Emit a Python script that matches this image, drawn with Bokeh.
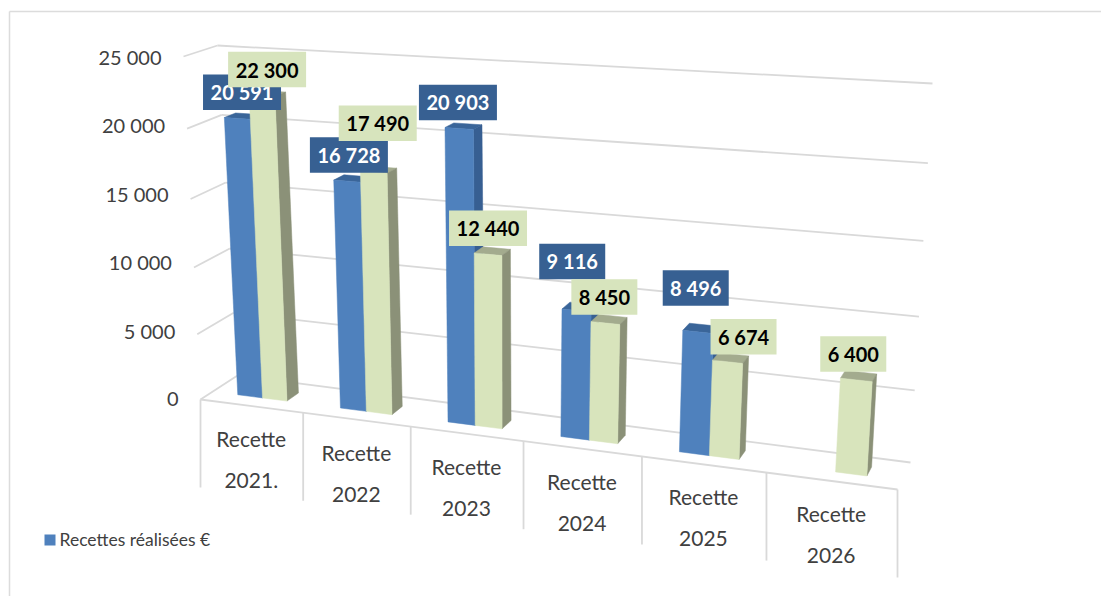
from bokeh.plotting import figure
from bokeh.embed import file_html
from bokeh.resources import INLINE
from bokeh.core.properties import value

# ---------- data ----------
categories = ["Recette\n2021.", "Recette\n2022", "Recette\n2023", "Recette\n2024", "Recette\n2025", "Recette\n2026"]
blue_values = [20591, 16728, 20903, 9116, 8496, None]
green_values = [22300, 17490, 12440, 8450, 6674, 6400]
axis_ticks = [0, 5000, 10000, 15000, 20000, 25000]
legend_label = "Recettes réalisées €"

# ---------- style ----------
BLUE = ("#4f81bd", "#375f92", "#3a6599")      # front, side, top
GREEN = ("#d8e4bc", "#8b9178", "#a3ab8e")
LABEL_BLUE, LABEL_GREEN = "#376092", "#d7e4bd"
GRID = "#d9d9d9"
TXT = "#404040"
FONT = value("Lato")

# label nudges in pixels from the top of each bar (hand-placed in the original)
BLUE_NUDGE = [(5, -26), (2, -26), (-1, -26), (-4, -49), (-2, -44), None]
GREEN_NUDGE = [(5, -26), (4, -49), (0, -26), (-1, -26), (16, -25), (-3, -26)]

# ---------- 3-D projection of the chart box ----------
FL0, FR0, FL1, FR1 = (200, 399), (897, 489), (183, 56), (922, 95)
BL0, BR0, BL1, BR1 = (237, 375), (910, 462), (217, 45), (932, 83)
B, C = -0.0227, -0.0123

def tu(u):
    return u * (1 + 6 * B) / (6 * (1 + B * u))

def sv(v):
    q = v / 5000
    return q * (1 + 5 * C) / (5 * (1 + C * q))

def lerp(a, b, t):
    return a + (b - a) * t

def project(u, w, v):
    t, s = tu(u), sv(v)
    out = []
    for k in (0, 1):
        f = lerp(lerp(FL0[k], FR0[k], t), lerp(FL1[k], FR1[k], t), s)
        b = lerp(lerp(BL0[k], BR0[k], t), lerp(BL1[k], BR1[k], t), s)
        out.append(lerp(f, b, w))
    return out

p = figure(width=1101, height=596, x_range=(0, 1101), y_range=(596, 0),
           output_backend="svg", toolbar_location=None, min_border=0)
p.axis.visible = False
p.grid.visible = False
p.outline_line_color = None

def seg(a, b, color=GRID, w=1.8):
    p.line([a[0], b[0]], [a[1], b[1]], line_color=color, line_width=w)

# outer frame
seg((9, 596), (9, 11), "#dcdcdc", 1.5)
seg((9, 11), (1101, 11), "#dcdcdc", 1.5)

# walls and floor
for v in axis_ticks:
    seg(project(0, 0, v), project(0, 1, v))
    seg(project(0, 1, v), project(6, 1, v))
seg(project(0, 0, 0), project(6, 0, 0))
for i in range(len(categories) + 1):
    a = project(i, 0, 0)
    seg(a, (a[0], a[1] + 88))

# tick labels: evenly spaced down the left of the box
top_tick, bottom_tick = max(axis_ticks), min(axis_ticks)
for v in axis_ticks:
    x, _ = project(0, 0, v)
    y = lerp(398.5, 56.5, (v - bottom_tick) / (top_tick - bottom_tick))
    p.text([x - 22], [y], text=[f"{v:,}".replace(",", " ")], text_font=FONT, text_font_size="20px",
           text_color=TXT, text_align="right", text_baseline="middle")

# category labels
for i, c in enumerate(categories):
    x, y = project(i + 0.5, 0, 0)
    for j, line in enumerate(c.split("\n")):
        p.text([x], [y + 32.5 + 42 * j], text=[line], text_font=FONT, text_font_size="21px",
               text_color=TXT, text_align="center", text_baseline="middle")

W0, W1 = 1 / 3, 2 / 3
SLOTS = (0.25, 0.495, 0.735)

def bar(u0, u1, v, cols):
    c = project
    faces = [
        ([c(u0, W0, v), c(u1, W0, v), c(u1, W1, v), c(u0, W1, v)], cols[2]),
        ([c(u1, W0, 0), c(u1, W1, 0), c(u1, W1, v), c(u1, W0, v)], cols[1]),
        ([c(u0, W0, 0), c(u1, W0, 0), c(u1, W0, v), c(u0, W0, v)], cols[0]),
    ]
    for pts, col in faces:
        p.patch([q[0] for q in pts], [q[1] for q in pts], fill_color=col, line_color=col, line_width=0.5)

for i in range(len(categories)):
    if blue_values[i] is not None:
        bar(i + SLOTS[0], i + SLOTS[1], blue_values[i], BLUE)
    bar(i + SLOTS[1], i + SLOTS[2], green_values[i], GREEN)

def label(i, series, val, nudge, bg, fg):
    ax, ay = project(i + SLOTS[series] + 0.12, W0, val)
    tx, ty = ax + nudge[0], ay + nudge[1]
    txt = f"{val:,}".replace(",", " ")
    w = 78 if val >= 10000 else 66
    p.rect([tx], [ty], width=w, height=35.5, fill_color=bg, line_color=None)
    p.text([tx], [ty], text=[txt], text_font=FONT, text_font_size="20px", text_font_style="bold",
           text_color=fg, text_align="center", text_baseline="middle")

for i in range(len(categories)):
    if blue_values[i] is not None:
        label(i, 0, blue_values[i], BLUE_NUDGE[i], LABEL_BLUE, "#ffffff")
    label(i, 1, green_values[i], GREEN_NUDGE[i], LABEL_GREEN, "#000000")

# legend
p.quad(left=[44], right=[55], top=[534], bottom=[545], fill_color=BLUE[0], line_color=None)
p.text([59], [539], text=[legend_label], text_font=FONT, text_font_size="17.5px", text_color=TXT,
       text_align="left", text_baseline="middle")

open("out.html", "w").write(file_html(p, INLINE))
